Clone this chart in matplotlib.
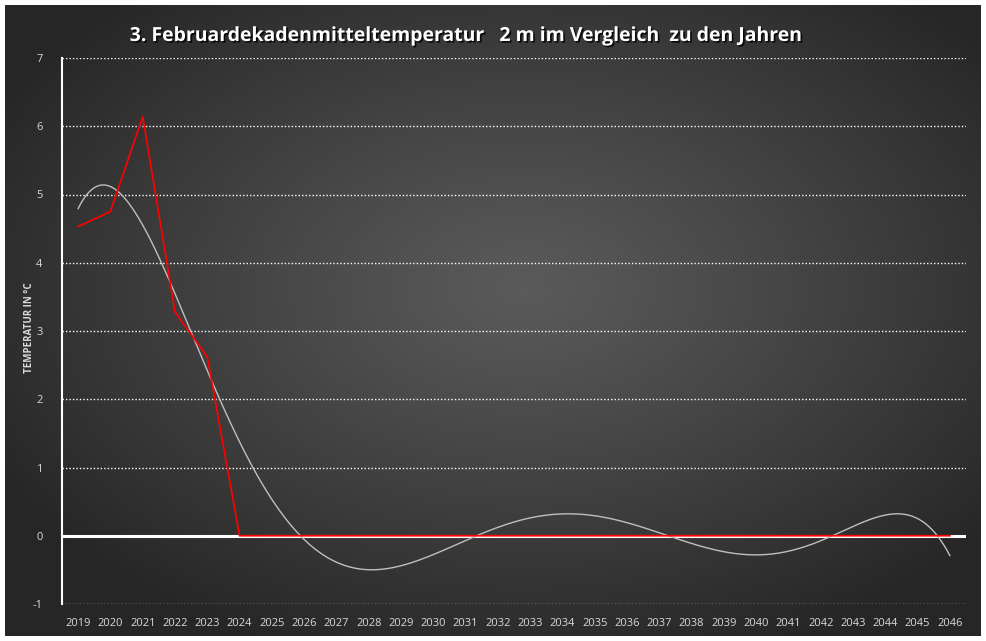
import numpy as np
import matplotlib
matplotlib.use("Agg")
import matplotlib.pyplot as plt
import matplotlib.patheffects as pe

years = [str(y) for y in range(2019, 2047)]
temps = [4.53, 4.75, 6.14, 3.28, 2.62, 0.0] + [0.0] * 22
title = "3. Februardekadenmitteltemperatur   2 m im Vergleich  zu den Jahren"
ylabel = "TEMPERATUR IN °C"
yticks = [-1, 0, 1, 2, 3, 4, 5, 6, 7]

W, H = 987, 641
fig = plt.figure(figsize=(W / 100, H / 100), dpi=100)
fig.patch.set_facecolor("white")

# dark background with radial gradient
bx0, by0, bx1, by1 = 5, 5, 981, 636
bg = fig.add_axes([bx0 / W, 1 - by1 / H, (bx1 - bx0) / W, (by1 - by0) / H])
bg.set_axis_off()
gx, gy = np.meshgrid(np.linspace(0, 1, 400), np.linspace(0, 1, 260))
cx, cy = 0.53, 0.45
r = np.sqrt(((gx - cx) / 0.62) ** 2 + ((gy - cy) / 0.62) ** 2)
r = np.clip(r, 0, 1)
v = 0.355 - (0.355 - 0.15) * r ** 1.1
img = np.dstack([v, v, v])
bg.imshow(img, aspect="auto", extent=[0, 1, 0, 1], origin="upper")

# plot area
px0, px1, py0, py1 = 62, 966, 58, 604
ax = fig.add_axes([px0 / W, 1 - py1 / H, (px1 - px0) / W, (py1 - py0) / H])
ax.set_facecolor("none")
x = np.arange(len(years))
ax.set_xlim(-0.5, len(years) - 0.5)
ax.set_ylim(-1, 7)

for yt in yticks:
    if yt != 0:
        ax.axhline(yt, color="white", lw=1.0, ls=(0, (1, 1.5)), zorder=1)
ax.axhline(0, color="white", lw=2.2, zorder=2)

# polynomial trendline (order 6)
xs = np.array(x, dtype=float)
coef = np.polyfit(xs, np.array(temps), 6)
xf = np.linspace(0, len(years) - 1, 400)
ax.plot(xf, np.polyval(coef, xf), color="#bfbfbf", lw=1.0, zorder=3)

ax.plot(x, temps, color="#ff0000", lw=1.25, zorder=4)

for s in ["top", "right", "bottom"]:
    ax.spines[s].set_visible(False)
ax.spines["left"].set_color("white")
ax.spines["left"].set_linewidth(1.5)

ax.set_xticks(x)
ax.set_xticklabels(years)
ax.set_yticks(yticks)
ax.set_yticklabels([str(t) for t in yticks])
ax.tick_params(axis="both", length=0, colors="#d9d9d9", labelsize=8)
ax.tick_params(axis="x", pad=10)
ax.tick_params(axis="y", pad=14)
for lab in ax.get_xticklabels() + ax.get_yticklabels():
    lab.set_family("Open Sans")

fig.text(30 / W, 1 - 328 / H, ylabel, rotation=90, ha="center", va="center",
         color="#d9d9d9", fontsize=7, fontweight="bold", family="Open Sans")

fig.text(468 / W, 1 - 36 / H, title, ha="center", va="center", color="white",
         fontsize=14, fontweight="bold", family="Open Sans",
         path_effects=[pe.withSimplePatchShadow(offset=(1.2, -1.2), shadow_rgbFace="black", alpha=0.8)])

fig.savefig("out.png", dpi=100, facecolor=fig.get_facecolor())
